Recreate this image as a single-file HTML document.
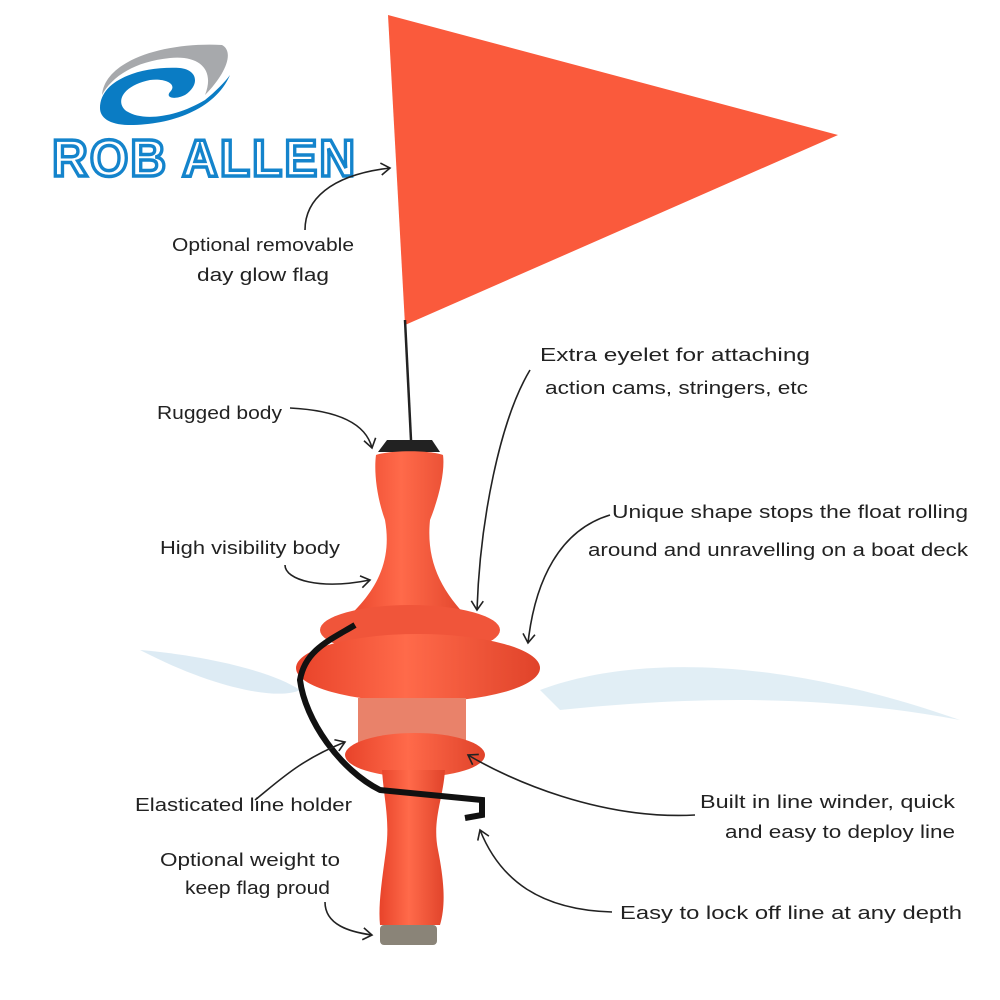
<!DOCTYPE html>
<html><head><meta charset="utf-8"><style>
html,body{margin:0;padding:0;background:#fff;}
svg{display:block}
text{font-family:"Liberation Sans",sans-serif;font-size:18px;fill:#222;}
</style></head><body>
<svg width="1000" height="1000" viewBox="0 0 1000 1000" xmlns="http://www.w3.org/2000/svg">
<defs>
<marker id="ah" markerWidth="14" markerHeight="14" refX="10" refY="7" orient="auto" markerUnits="userSpaceOnUse">
<path d="M1,1 L10,7 L1,13" fill="none" stroke="#222" stroke-width="1.6"/>
</marker>
<linearGradient id="bd" x1="0" x2="1"><stop offset="0" stop-color="#e8432a"/><stop offset="0.45" stop-color="#ff6a4a"/><stop offset="1" stop-color="#e0432a"/></linearGradient>
</defs>
<!-- logo -->
<path d="M102,95 C105,60 165,42 222,45 C235,52 225,75 205,95 C215,70 200,55 170,58 C130,62 110,80 102,95 Z" fill="#a7a9ac"/>
<path d="M100,108 C100,80 140,66 180,68 C198,70 200,85 185,95 C175,100 165,98 170,92 C178,84 165,78 150,80 C125,85 115,100 125,110 C140,122 175,118 205,100 C215,92 225,82 230,75 C215,110 170,125 130,125 C110,125 100,118 100,108 Z" fill="#0a7cc4"/>
<text x="52" y="176" style="font-size:52px;font-weight:bold;fill:#fff;stroke:#1484cc;stroke-width:3.5;letter-spacing:2px" textLength="305" lengthAdjust="spacingAndGlyphs">ROB ALLEN</text>
<!-- water splash -->
<path d="M140,650 C200,655 270,670 300,690 C280,700 220,690 150,655 Z" fill="#cfe3f0" opacity="0.7"/>
<path d="M540,690 C620,660 760,650 960,720 C800,690 660,700 560,710 Z" fill="#d9eaf3" opacity="0.8"/>
<!-- flag -->
<polygon points="388,15 838,135 405,325" fill="#fa5a3c"/>
<line x1="405" y1="320" x2="411" y2="440" stroke="#222" stroke-width="2.5"/>
<!-- float body -->
<path d="M387,440 L432,440 L440,452 L378,452 Z" fill="#222"/>
<path d="M376,455 C374,470 376,495 385,520 C392,560 378,590 345,620 L470,620 C440,590 426,560 430,520 C440,495 445,470 443,455 C430,450 390,450 376,455 Z" fill="url(#bd)"/>
<ellipse cx="410" cy="630" rx="90" ry="25" fill="#f0553a"/>
<ellipse cx="418" cy="668" rx="122" ry="34" fill="url(#bd)"/>
<rect x="358" y="698" width="108" height="52" fill="#e9826a"/>
<ellipse cx="415" cy="755" rx="70" ry="22" fill="url(#bd)"/>
<path d="M382,770 L445,770 C443,800 432,820 438,850 C444,880 446,905 440,925 L380,925 C378,905 382,880 386,850 C390,820 384,800 382,770 Z" fill="url(#bd)"/>
<rect x="380" y="925" width="57" height="20" rx="4" fill="#8a8478"/>
<path d="M355,625 C330,640 305,650 300,680 C305,720 340,770 380,790 L482,800 L482,815 L465,818" fill="none" stroke="#111" stroke-width="6"/>
<!-- arrows -->
<g fill="none" stroke="#222" stroke-width="1.6" marker-end="url(#ah)">
<path d="M305,230 C305,200 330,175 390,168"/>
<path d="M290,408 C330,410 365,420 372,448"/>
<path d="M530,370 C500,420 480,520 477,610"/>
<path d="M610,515 C560,530 535,580 528,643"/>
<path d="M285,565 C285,580 320,590 370,580"/>
<path d="M255,800 C280,780 300,760 345,742"/>
<path d="M695,815 C600,820 510,780 468,755"/>
<path d="M325,902 C325,925 350,932 372,935"/>
<path d="M612,912 C540,910 500,880 480,830"/>
</g>
<!-- labels -->
<text x="172" y="251" textLength="182" lengthAdjust="spacingAndGlyphs">Optional removable</text>
<text x="197" y="281" textLength="132" lengthAdjust="spacingAndGlyphs">day glow flag</text>
<text x="540" y="361" textLength="270" lengthAdjust="spacingAndGlyphs">Extra eyelet for attaching</text>
<text x="545" y="394" textLength="263" lengthAdjust="spacingAndGlyphs">action cams, stringers, etc</text>
<text x="157" y="419" textLength="125" lengthAdjust="spacingAndGlyphs">Rugged body</text>
<text x="612" y="518" textLength="356" lengthAdjust="spacingAndGlyphs">Unique shape stops the float rolling</text>
<text x="588" y="556" textLength="380" lengthAdjust="spacingAndGlyphs">around and unravelling on a boat deck</text>
<text x="160" y="554" textLength="180" lengthAdjust="spacingAndGlyphs">High visibility body</text>
<text x="135" y="811" textLength="217" lengthAdjust="spacingAndGlyphs">Elasticated line holder</text>
<text x="700" y="808" textLength="255" lengthAdjust="spacingAndGlyphs">Built in line winder, quick</text>
<text x="725" y="838" textLength="230" lengthAdjust="spacingAndGlyphs">and easy to deploy line</text>
<text x="160" y="866" textLength="180" lengthAdjust="spacingAndGlyphs">Optional weight to</text>
<text x="185" y="894" textLength="145" lengthAdjust="spacingAndGlyphs">keep flag proud</text>
<text x="620" y="919" textLength="342" lengthAdjust="spacingAndGlyphs">Easy to lock off line at any depth</text>
</svg>
</body></html>
